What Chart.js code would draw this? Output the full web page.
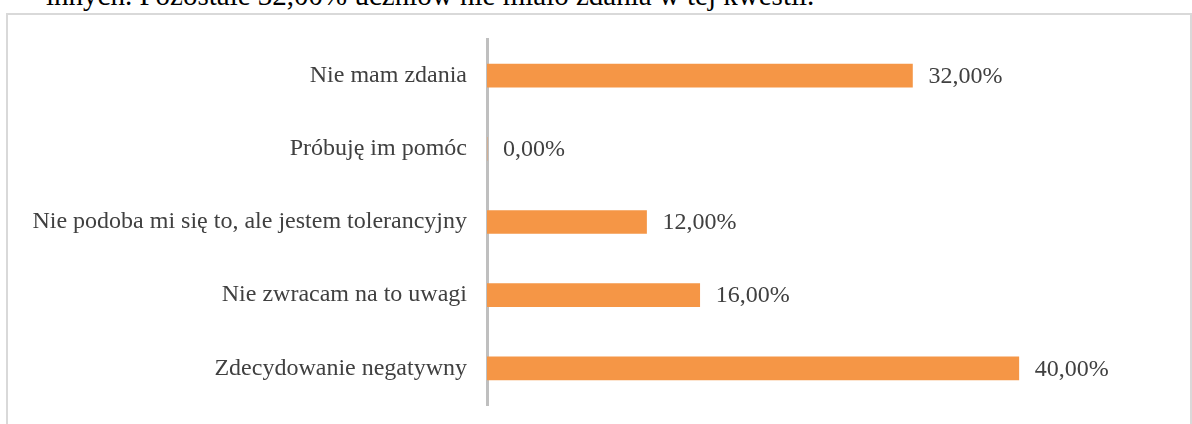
<!DOCTYPE html>
<html>
<head>
<meta charset="utf-8">
<script src="https://cdn.jsdelivr.net/npm/chart.js"></script>
<style>
    body { margin: 0; background: #fff; width: 1192px; height: 424px; overflow: hidden; position: relative; }
    #caption { position: absolute; left: 46px; top: -21px; font-family: 'Liberation Serif', serif; font-size: 29px; color: #000; white-space: nowrap; }
    #frame { position: absolute; left: 6px; top: 13px; width: 1186px; height: 420px; border: 2px solid #d9d9d9; box-sizing: border-box; }
    #wrap { position: absolute; left: 0; top: 0; width: 1192px; height: 424px; }
</style>
</head>
<body>
<div id="caption">innych. Pozostałe 32,00% uczniów nie miało zdania w tej kwestii.</div>
<div id="frame"></div>
<div id="wrap"><canvas id="barChart"></canvas></div>
<script>
// Chart data
const categories = ['Nie mam zdania', 'Próbuję im pomóc', 'Nie podoba mi się to, ale jestem tolerancyjny', 'Nie zwracam na to uwagi', 'Zdecydowanie negatywny'];
const percentValues = [32, 0, 12, 16, 40];

// Draw value labels at the end of each bar
const valueLabels = {
    id: 'valueLabels',
    afterDatasetsDraw(chart) {
        const ctx = chart.ctx;
        const meta = chart.getDatasetMeta(0);
        ctx.save();
        ctx.font = '24px "Liberation Serif", serif';
        ctx.fillStyle = '#404040';
        ctx.textAlign = 'left';
        ctx.textBaseline = 'middle';
        meta.data.forEach(function(bar, i) {
            const text = percentValues[i].toFixed(2).replace('.', ',') + '%';
            ctx.fillText(text, bar.x + 16, bar.y + 1);
        });
        ctx.restore();
    }
};

const ctx = document.getElementById('barChart').getContext('2d');

new Chart(ctx, {
    type: 'bar',
    data: {
        labels: categories,
        datasets: [{
            data: percentValues,
            backgroundColor: '#f59646',
            barThickness: 23
        }]
    },
    plugins: [valueLabels],
    options: {
        indexAxis: 'y',
        responsive: true,
        maintainAspectRatio: false,
        animation: false,
        layout: {
            padding: { top: 39, bottom: 19, left: 0, right: 120 }
        },
        plugins: {
            legend: { display: false },
            tooltip: { enabled: false }
        },
        scales: {
            x: {
                display: false,
                min: 0,
                max: 44
            },
            y: {
                afterFit: function(scale) {
                    scale.width = 487;
                    scale.paddingTop = 0;
                    scale.paddingBottom = 0;
                },
                ticks: {
                    padding: 20,
                    color: '#404040',
                    font: {
                        size: 24,
                        family: 'Liberation Serif',
                        lineHeight: 1
                    }
                },
                grid: {
                    display: false,
                    drawTicks: false
                },
                border: {
                    display: true,
                    color: '#bfbfbf',
                    width: 3
                }
            }
        }
    }
});
</script>
</body>
</html>
